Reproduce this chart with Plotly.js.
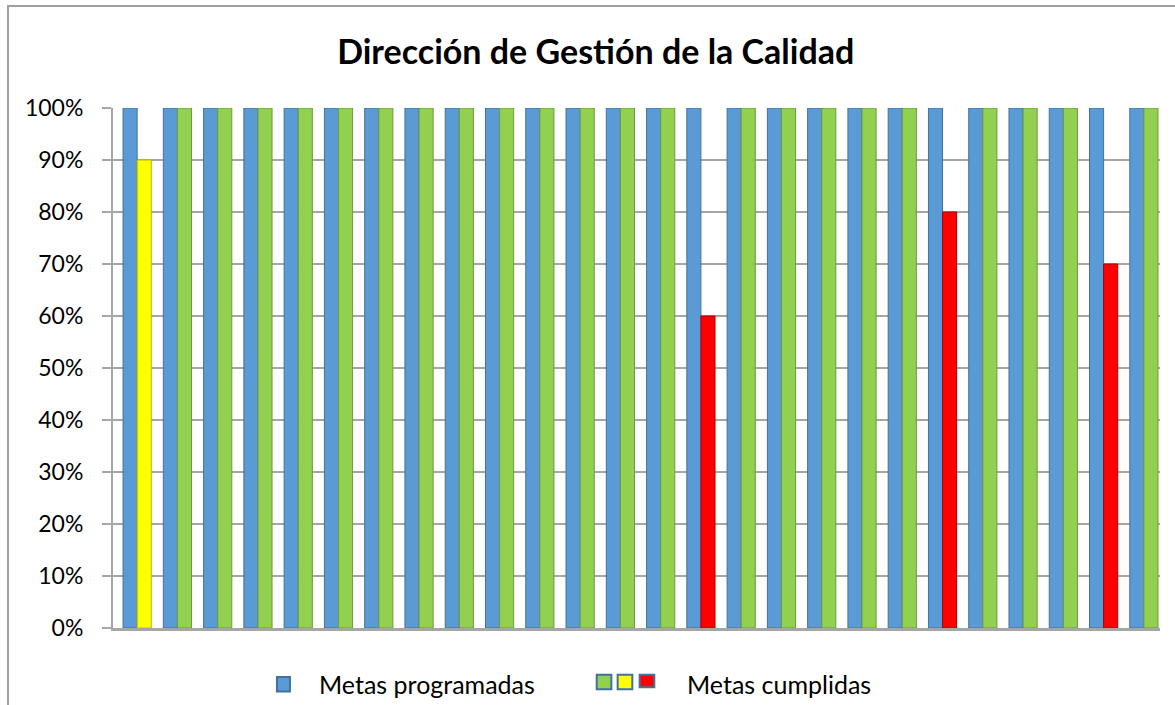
<!DOCTYPE html>
<html><head><meta charset="utf-8">
<script src="https://cdn.plot.ly/plotly-3.0.1.min.js"></script>
<style>body{margin:0;background:#fff;} #frame{position:absolute;left:7px;top:5px;width:1300px;height:900px;border-left:2px solid #a0a0a0;border-top:2px solid #a0a0a0;pointer-events:none;}</style>
</head><body>
<div id="chart" style="width:1175px;height:705px;"></div>
<div id="frame"></div>
<script>
const categories = Array.from({length:26},(_,i)=>'M'+(i+1));
const programadas = [100,100,100,100,100,100,100,100,100,100,100,100,100,100,100,100,100,100,100,100,100,100,100,100,100,100];
const cumplidas   = [90,100,100,100,100,100,100,100,100,100,100,100,100,100,60,100,100,100,100,100,80,100,100,100,70,100];
const cumplidasColors = ['#FFFF00','#92D050','#92D050','#92D050','#92D050','#92D050','#92D050','#92D050','#92D050','#92D050','#92D050','#92D050','#92D050','#92D050','#FF0000','#92D050','#92D050','#92D050','#92D050','#92D050','#FF0000','#92D050','#92D050','#92D050','#FF0000','#92D050'];
const cumplidasLines = cumplidasColors.map(c=>c==='#92D050'?'#6E9A3C':(c==='#FF0000'?'#B00000':'#B8B800'));
const yTicks = [0,10,20,30,40,50,60,70,80,90,100];
const yTickText = yTicks.map(v=>v+'%');
const font = 'Lato, "Open Sans", sans-serif';

const traces = [
 {type:'bar', name:'Metas programadas', x:categories, y:programadas,
  marker:{color:'#5B9BD5', line:{color:'#41719C', width:1}}, showlegend:false, hoverinfo:'y'},
 {type:'bar', name:'Metas cumplidas', x:categories, y:cumplidas,
  marker:{color:cumplidasColors, line:{color:cumplidasLines, width:1}}, showlegend:false, hoverinfo:'y'}
];

const legendY = -0.108;
const layout = {
 width:1175, height:705,
 margin:{l:113, r:15, t:108, b:77},
 paper_bgcolor:'#fff', plot_bgcolor:'#fff',
 barmode:'group', bargap:0.3, bargroupgap:0,
 title:{text:'<b>Dirección de Gestión de la Calidad</b>', font:{family:font, size:34, color:'#000'}, x:0.507, xanchor:'center', y:0.926, yanchor:'middle'},
 xaxis:{type:'category', range:[-0.6,25.4], showticklabels:false, ticks:'', showgrid:false, zeroline:false, showline:true, linecolor:'#a6a6a6', linewidth:3},
 yaxis:{range:[0,100], tickvals:yTicks, ticktext:yTickText, showgrid:true, gridcolor:'#a6a6a6', gridwidth:2,
   ticks:'outside', ticklen:9, tickcolor:'#a6a6a6', tickwidth:2, showline:true, linecolor:'#a6a6a6', linewidth:2,
   zeroline:false, tickfont:{family:font, size:23, color:'#000'}, ticklabelstandoff:14},
 shapes:[
  {type:'rect', xref:'paper', yref:'paper', x0:0.1566, x1:0.169, y0:legendY-0.014, y1:legendY+0.014, fillcolor:'#5B9BD5', line:{color:'#41719C', width:2}},
  {type:'rect', xref:'paper', yref:'paper', x0:0.462, x1:0.476, y0:legendY-0.010, y1:legendY+0.018, fillcolor:'#92D050', line:{color:'#41719C', width:2}},
  {type:'rect', xref:'paper', yref:'paper', x0:0.482, x1:0.496, y0:legendY-0.010, y1:legendY+0.018, fillcolor:'#FFFF00', line:{color:'#41719C', width:2}},
  {type:'rect', xref:'paper', yref:'paper', x0:0.503, x1:0.517, y0:legendY-0.006, y1:legendY+0.018, fillcolor:'#FF0000', line:{color:'#41719C', width:2}}
 ],
 annotations:[
  {xref:'paper', yref:'paper', x:0.195, y:legendY, xanchor:'left', yanchor:'middle', showarrow:false, text:'Metas programadas', font:{family:font, size:25, color:'#000'}},
  {xref:'paper', yref:'paper', x:0.546, y:legendY, xanchor:'left', yanchor:'middle', showarrow:false, text:'Metas cumplidas', font:{family:font, size:25, color:'#000'}}
 ]
};
Plotly.newPlot('chart', traces, layout, {displayModeBar:false, staticPlot:true});
</script>
</body></html>
